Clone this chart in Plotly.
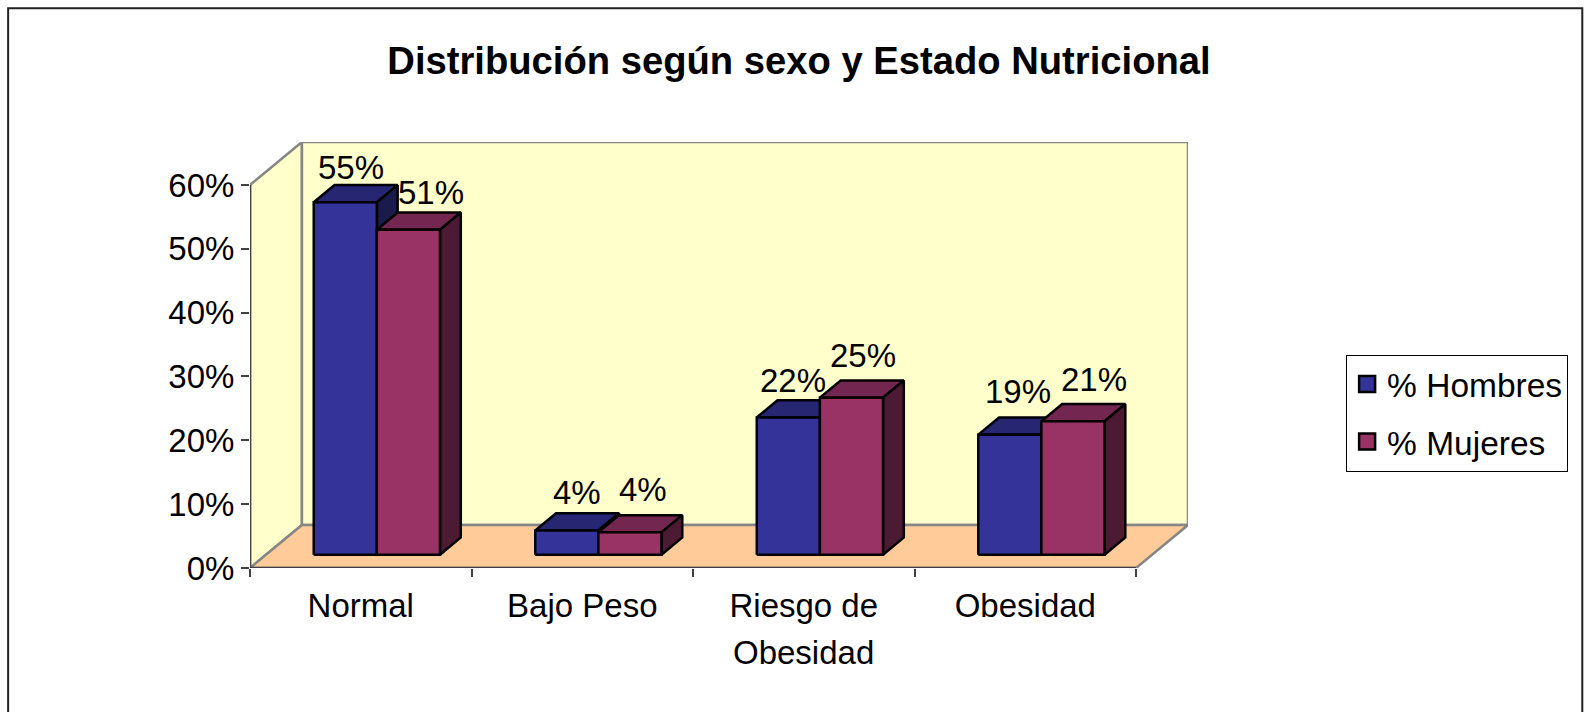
import plotly.graph_objects as go

# ---- data ----
categories = ["Normal", "Bajo Peso", "Riesgo de<br>Obesidad", "Obesidad"]
hombres = [55.2, 3.8, 21.5, 18.8]
mujeres = [50.9, 3.5, 24.6, 20.9]
y_ticks = [0, 10, 20, 30, 40, 50, 60]
series_names = ["% Hombres", "% Mujeres"]

# ---- style ----
FONT = "Liberation Sans, Arial, sans-serif"
FS = 33
WALL = "#FFFFCC"
FLOOR = "#FFCC99"
GREY = "#868686"
HOM = ("#333399", "#262673", "#1A1A4D")   # front, top, side
MUJ = ("#993366", "#732650", "#4D1A33")
label_dx = [[6, 10, 5, 8], [23, 13, 12, 21]]
label_dy = [[35, 38, 37, 43], [37, 43, 42, 42]]

# ---- oblique projection of the 3D box, in axis units ----
N = len(categories)
YMAX = 60
DX = 0.2345      # shift in category units for full depth
DY = 6.73        # shift in value units for full depth
BAR_W = 0.285
Z0, Z1 = 0.31, 0.71   # depth span of the bars


def P(x, v, z=0.0):
    return x + z * DX, v + z * DY


def poly(points, fill, line="black", width=2.5):
    xs, ys = zip(*(points + [points[0]]))
    return go.Scatter(x=list(xs), y=list(ys), mode="lines", fill="toself", fillcolor=fill,
                      line=dict(color=line, width=width), hoverinfo="skip", showlegend=False,
                      cliponaxis=False)


fig = go.Figure()
fig.add_trace(poly([P(0, 0, 0), P(0, YMAX, 0), P(0, YMAX, 1), P(0, 0, 1)], WALL, GREY))
fig.add_trace(poly([P(0, 0, 1), P(0, YMAX, 1), P(N, YMAX, 1), P(N, 0, 1)], WALL, GREY))
fig.add_trace(poly([P(0, 0, 0), P(N, 0, 0), P(N, 0, 1), P(0, 0, 1)], FLOOR, GREY))
# front axis edges
for xs, ys in (([0, N], [0, 0]), ([0, 0], [0, YMAX])):
    fig.add_trace(go.Scatter(x=xs, y=ys, mode="lines", line=dict(color="#404040", width=2.5),
                             hoverinfo="skip", showlegend=False, cliponaxis=False))

annotations = []
for i in range(N):
    for s, (vals, cols) in enumerate(((hombres, HOM), (mujeres, MUJ))):
        v = vals[i]
        x0 = i + 0.5 - BAR_W + s * BAR_W
        x1 = x0 + BAR_W
        fig.add_trace(poly([P(x0, v, Z0), P(x1, v, Z0), P(x1, v, Z1), P(x0, v, Z1)], cols[1]))
        fig.add_trace(poly([P(x1, 0, Z0), P(x1, v, Z0), P(x1, v, Z1), P(x1, 0, Z1)], cols[2]))
        fig.add_trace(poly([P(x0, 0, Z0), P(x1, 0, Z0), P(x1, v, Z0), P(x0, v, Z0)], cols[0]))
        cx, cy = P((x0 + x1) / 2, v, Z0)
        annotations.append(dict(x=cx, y=cy, text=f"{v:.0f}%", showarrow=False, xanchor="center",
                                yanchor="middle", xshift=label_dx[s][i], yshift=label_dy[s][i],
                                font=dict(family=FONT, size=FS, color="black")))

# extra lines of the two-line category label (line pitch wider than plotly's <br>)
for i, c in enumerate(categories):
    for k, extra in enumerate(c.split("<br>")[1:], start=1):
        annotations.append(dict(x=i + 0.5, y=0, text=extra, showarrow=False, xanchor="center",
                                yanchor="middle", yshift=-36 - 48 * k,
                                font=dict(family=FONT, size=FS, color="black")))

# legend entries
for name, cols in zip(series_names, (HOM, MUJ)):
    fig.add_trace(go.Scatter(x=[None], y=[None], mode="markers", name=name, legendgroup=name,
                             marker=dict(symbol="square", size=19, color=cols[0],
                                         line=dict(color="black", width=2.5))))

# plot-area box in page pixels
L, R, T, B = 250, 1188.5, 142, 568.5
W, H = 1585, 712


def px(x):
    return (x - L) / (R - L)


def py(y):
    return (B - y) / (B - T)


frame = dict(type="rect", xref="paper", yref="paper", x0=px(8), x1=px(1583), y0=py(730), y1=py(8),
             line=dict(color="#222222", width=2), fillcolor="rgba(0,0,0,0)", layer="below")

fig.update_layout(
    width=W, height=H, showlegend=True,
    margin=dict(l=L, r=W - R, t=T, b=H - B, autoexpand=False, pad=0),
    paper_bgcolor="white", plot_bgcolor="rgba(0,0,0,0)",
    font=dict(family=FONT, size=FS, color="black"),
    title=dict(text="<b>Distribución según sexo y Estado Nutricional</b>",
               font=dict(family=FONT, size=38.2, color="black"),
               x=799 / W, xref="container", xanchor="center",
               y=1 - 60.5 / H, yref="container", yanchor="middle"),
    xaxis=dict(range=[0, N + DX], showgrid=False, zeroline=False, showline=False,
               tickmode="array", tickvals=[i + 0.5 for i in range(N)],
               ticktext=[c.split("<br>")[0] for c in categories],
               ticks="", ticklabelstandoff=15,
               minor=dict(tickmode="array", tickvals=list(range(N + 1)), ticks="outside",
                          ticklen=8, tickwidth=1.5, tickcolor="#404040", showgrid=False),
               tickfont=dict(family=FONT, size=FS, color="black")),
    yaxis=dict(range=[0, YMAX + DY], showgrid=False, zeroline=False, showline=False,
               tickmode="array", tickvals=y_ticks, ticktext=[f"{t}%" for t in y_ticks],
               ticks="outside", ticklen=8, tickwidth=1.5, tickcolor="#404040",
               ticklabelstandoff=0, tickfont=dict(family=FONT, size=FS, color="black")),
    legend=dict(x=px(1346.7), y=py(355), xanchor="left", yanchor="top", bgcolor="white",
                bordercolor="black", borderwidth=1, font=dict(family=FONT, size=33.5, color="black"),
                tracegroupgap=11, traceorder="grouped", entrywidth=183, entrywidthmode="pixels",
                itemclick=False, itemdoubleclick=False),
    annotations=annotations,
    shapes=[frame],
)

fig.write_html("out.html", config=dict(displayModeBar=False),
               post_script="document.body.style.margin='0';document.body.style.overflow='hidden';")
